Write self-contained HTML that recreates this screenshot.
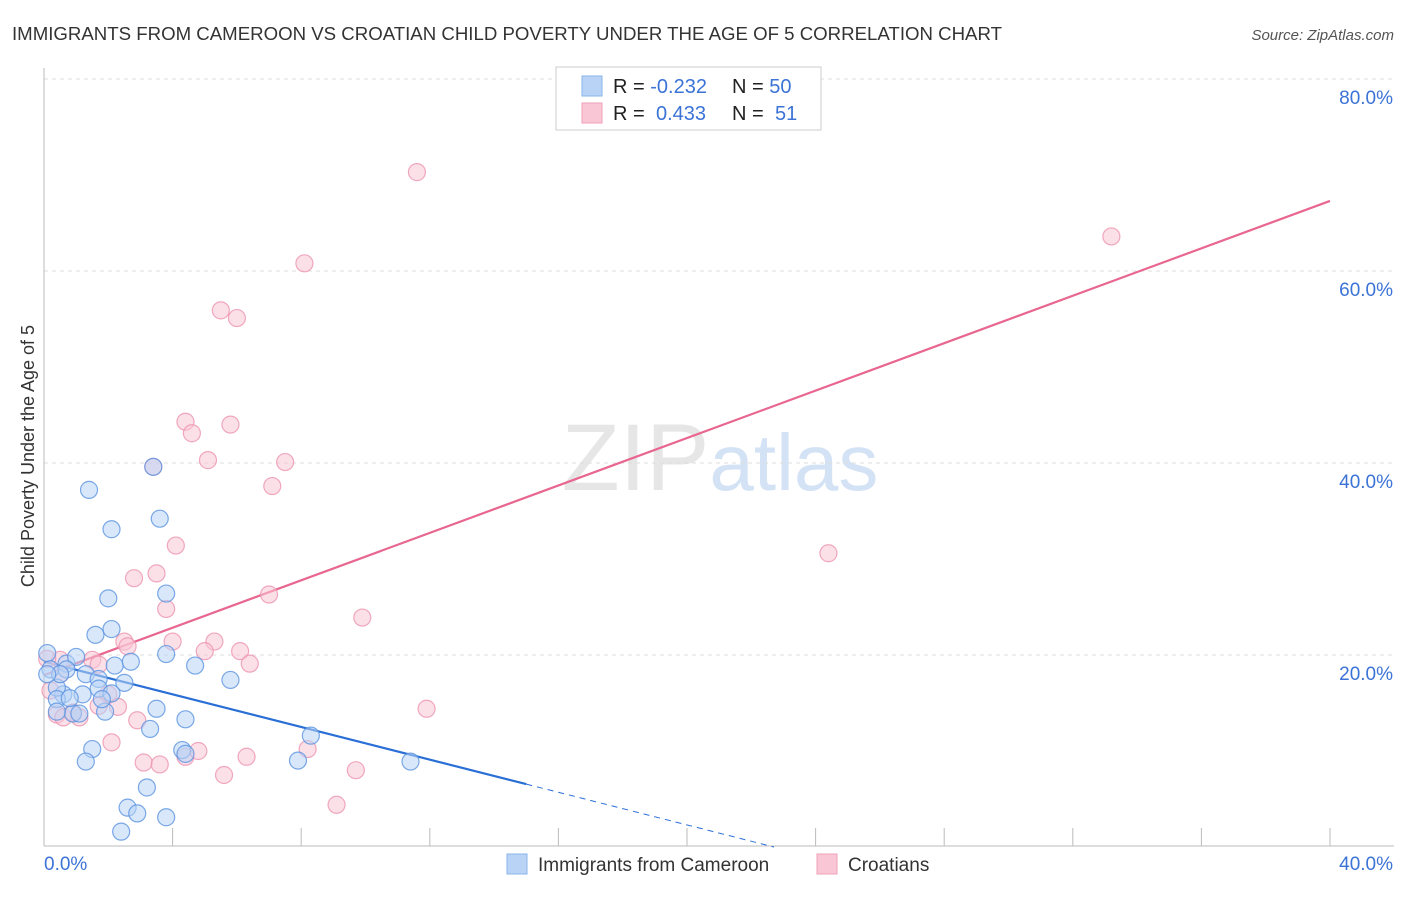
<!DOCTYPE html>
<html><head><meta charset="utf-8"><style>
body{margin:0;background:#fff;font-family:"Liberation Sans",sans-serif;}
svg text{font-family:"Liberation Sans",sans-serif;}
</style></head><body>
<svg id="chart" width="1406" height="892" xmlns="http://www.w3.org/2000/svg">
<text x="12" y="40" font-size="18" fill="#333" textLength="990" lengthAdjust="spacingAndGlyphs">IMMIGRANTS FROM CAMEROON VS CROATIAN CHILD POVERTY UNDER THE AGE OF 5 CORRELATION CHART</text>
<text x="1394" y="40" font-size="15" fill="#555" text-anchor="end" font-style="italic">Source: ZipAtlas.com</text>
<text x="720" y="490" font-size="95" text-anchor="middle" fill="#e6e6e6" font-family="Liberation Serif">ZIP<tspan fill="#d3e2f5" font-family="Liberation Sans" font-size="80">atlas</tspan></text>
<g id="grid"></g><g id="axes"></g><g id="lines"></g><g id="pts"></g>
<text transform="translate(34,456) rotate(-90)" font-size="18" fill="#333" text-anchor="middle">Child Poverty Under the Age of 5</text>
<g>
<rect x="556" y="67" width="265" height="63" fill="#fff" stroke="#ccc"/>
<rect x="582" y="76" width="20" height="20" fill="#b8d3f5" stroke="#8ab4ea"/>
<rect x="582" y="103" width="20" height="20" fill="#f9c6d5" stroke="#f0a0b8"/>
<text x="613" y="93" font-size="20" fill="#222">R = <tspan fill="#3b73d6">-0.232</tspan><tspan x="732">N = </tspan><tspan fill="#3b73d6">50</tspan></text>
<text x="613" y="120" font-size="20" fill="#222">R = <tspan fill="#3b73d6" x="656">0.433</tspan><tspan x="732">N = </tspan><tspan fill="#3b73d6" x="775">51</tspan></text>
</g>
<g>
<rect x="507" y="854" width="20" height="20" fill="#b8d3f5" stroke="#8ab4ea"/>
<text x="538" y="871" font-size="19" fill="#333">Immigrants from Cameroon</text>
<rect x="817" y="854" width="20" height="20" fill="#f9c6d5" stroke="#f0a0b8"/>
<text x="848" y="871" font-size="19" fill="#333">Croatians</text>
</g>
</svg>
<script>
const yTicks=[20,40,60,80];
const xTickLabels=["0.0%","40.0%"];
const blueX=[1.4,2.1,3.6,3.4,2.0,3.8,1.6,2.1,3.8,4.7,5.8,2.2,0.1,0.2,0.7,1.0,1.3,0.6,0.4,1.7,2.5,1.7,1.2,0.4,1.9,0.9,1.1,3.5,4.4,3.3,1.5,1.3,4.3,4.4,7.9,8.3,11.4,3.2,2.6,2.9,3.8,2.4,0.7,0.5,2.1,0.1,0.8,0.4,1.8,2.7];
const blueY=[37.2,33.1,34.2,39.6,25.9,26.4,22.1,22.7,20.1,18.9,17.4,18.9,20.2,18.5,19.1,19.8,18.0,15.9,16.6,17.5,17.1,16.5,15.9,15.4,14.1,13.9,13.9,14.4,13.3,12.3,10.2,8.9,10.1,9.7,9.0,11.6,8.9,6.2,4.1,3.5,3.1,1.6,18.5,18.0,16.0,18.0,15.5,14.1,15.4,19.3];
const pinkX=[11.6,33.2,8.1,5.5,6.0,4.4,4.6,5.8,5.1,3.4,7.5,7.1,4.1,24.4,2.8,3.5,3.8,7.0,9.9,2.5,2.6,4.0,5.3,5.0,6.1,6.4,1.5,1.7,0.5,0.1,0.5,2.0,2.3,1.7,11.9,0.4,0.6,1.1,0.9,2.1,2.9,4.4,4.8,6.3,3.1,3.6,5.6,8.2,9.7,9.1,0.2];
const pinkY=[70.3,63.6,60.8,55.9,55.1,44.3,43.1,44.0,40.3,39.6,40.1,37.6,31.4,30.6,28.0,28.5,24.8,26.3,23.9,21.4,20.9,21.4,21.4,20.4,20.4,19.1,19.5,19.0,19.5,19.6,18.0,15.9,14.6,14.7,14.4,13.8,13.5,13.5,14.0,10.9,13.2,9.4,10.0,9.4,8.8,8.6,7.5,10.2,8.0,4.4,16.3];
const pinkLine=[17.9,67.3];
const blueLine=[19.3,-0.85];
const NS="http://www.w3.org/2000/svg";
const X=v=>44+v/40*1286, Y=v=>847-v*9.6;
function mk(p,t,a){const e=document.createElementNS(NS,t);for(const k in a)e.setAttribute(k,a[k]);document.getElementById(p).appendChild(e);return e;}
yTicks.forEach(t=>{
 const l=mk('grid','line',{x1:44,x2:1394,y1:Y(t),y2:Y(t),stroke:'#ddd','stroke-dasharray':'4,4'});
 
 
 const tx=mk('axes','text',{x:1393,y:Y(t)+25,'font-size':19,fill:'#3b73d6','text-anchor':'end'});tx.textContent=t.toFixed(1)+'%';
 
 
});
mk('axes','line',{x1:44,x2:44,y1:68,y2:846,stroke:'#bbb'});
mk('axes','line',{x1:44,x2:1394,y1:846,y2:846,stroke:'#bbb'});
for(let i=1;i<=10;i++){mk('axes','line',{x1:X(i*4),x2:X(i*4),y1:828,y2:846,stroke:'#bbb'});}
const xl0=mk('axes','text',{x:44,y:870,'font-size':19,fill:'#3b73d6'});xl0.textContent=xTickLabels[0];


const xl1=mk('axes','text',{x:1393,y:870,'font-size':19,fill:'#3b73d6','text-anchor':'end'});xl1.textContent=xTickLabels[1];


function dots(xs,ys,f,s,n){xs.forEach((x,i)=>{const c=mk('pts','circle',{cx:X(x),cy:Y(ys[i]),r:8.5,fill:f,'fill-opacity':0.55,stroke:s,'stroke-opacity':0.8,'stroke-width':1.2});
 
 });}
dots(pinkX,pinkY,'#f9c6d5','#ec94b0','point-croatians');
dots(blueX,blueY,'#b8d3f5','#5b93e0','point-cameroon');
const pl=mk('lines','line',{x1:X(0),y1:Y(pinkLine[0]),x2:X(40),y2:Y(pinkLine[1]),stroke:'#e8668f','stroke-width':2.2});


const bEnd=15, bZero=-blueLine[0]/blueLine[1];
const bl=mk('lines','line',{x1:X(0),y1:Y(blueLine[0]),x2:X(bEnd),y2:Y(blueLine[0]+blueLine[1]*bEnd),stroke:'#2a6fd6','stroke-width':2.2});


const bd=mk('lines','line',{x1:X(bEnd),y1:Y(blueLine[0]+blueLine[1]*bEnd),x2:X(bZero),y2:Y(0),stroke:'#2a6fd6','stroke-width':1,'stroke-dasharray':'6,5'});


</script>
</body></html>
